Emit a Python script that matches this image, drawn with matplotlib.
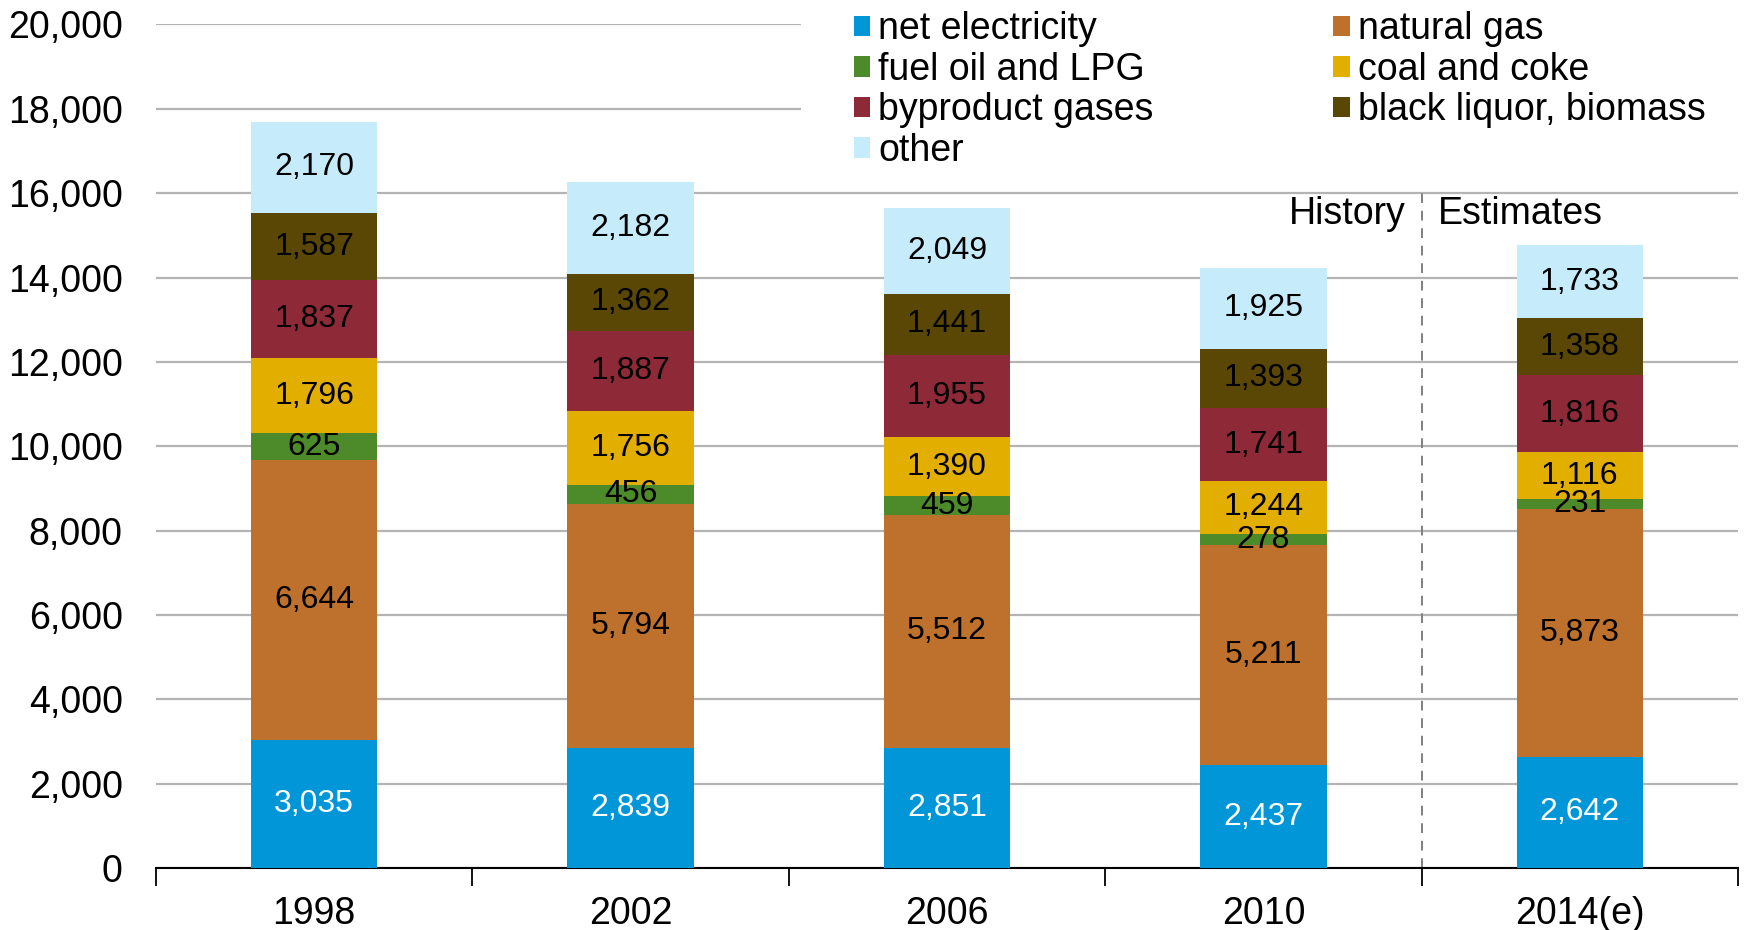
import matplotlib
matplotlib.use("Agg")
import matplotlib.pyplot as plt
from matplotlib.patches import Rectangle

plt.rcParams['font.family'] = ['Liberation Sans', 'DejaVu Sans']

years = ['1998', '2002', '2006', '2010', '2014(e)']
series = ['net electricity', 'natural gas', 'fuel oil and LPG', 'coal and coke',
          'byproduct gases', 'black liquor, biomass', 'other']
net_electricity = [3035, 2839, 2851, 2437, 2642]
natural_gas = [6644, 5794, 5512, 5211, 5873]
fuel_oil_lpg = [625, 456, 459, 278, 231]
coal_coke = [1796, 1756, 1390, 1244, 1116]
byproduct_gases = [1837, 1887, 1955, 1741, 1816]
black_liquor = [1587, 1362, 1441, 1393, 1358]
other = [2170, 2182, 2049, 1925, 1733]

values = [net_electricity, natural_gas, fuel_oil_lpg, coal_coke,
          byproduct_gases, black_liquor, other]
colors = ['#0096D7', '#BD712C', '#4D8A2A', '#E2AE00', '#8E2A37', '#5A4706', '#C6ECFC']
label_colors = ['white'] + ['black'] * 6

fig = plt.figure(figsize=(17.49, 9.30), dpi=100)
ax = fig.add_axes([0.0892, 0.0667, 0.9045, 0.907])

x = list(range(len(years)))
bottom = [0] * len(years)
handles = {}
for name, vals, c, lc in zip(series, values, colors, label_colors):
    bars = ax.bar(x, vals, 0.4, bottom=bottom, color=c, label=name, zorder=3)
    ax.bar_label(bars, labels=[f'{v:,}' for v in vals], label_type='center',
                 color=lc, fontsize=23, zorder=4)
    handles[name] = bars
    bottom = [b + v for b, v in zip(bottom, vals)]

ax.set_xlim(-0.5, len(years) - 0.5)
ax.set_ylim(0, 20000)
ax.set_yticks(range(0, 20001, 2000))
ax.set_yticklabels([f'{v:,}' for v in range(0, 20001, 2000)])
ax.yaxis.grid(True, color='#B4B4B4', linewidth=1.6, zorder=0)
ax.set_axisbelow(True)

# category ticks at boundaries, labels centred
ax.set_xticks([i - 0.5 for i in range(len(years) + 1)])
ax.set_xticklabels([])
ax.set_xticks(x, minor=True)
ax.set_xticklabels(years, minor=True)
ax.tick_params(axis='x', which='major', length=13, width=1.3, direction='out')
ax.tick_params(axis='x', which='minor', length=0, pad=20, labelsize=27)
ax.tick_params(axis='y', length=0, pad=24, labelsize=27)

for s in ['top', 'right', 'left']:
    ax.spines[s].set_visible(False)
ax.spines['bottom'].set_linewidth(1.5)

# history / estimates divider
ax.vlines(3.5, 0, 16100, colors='#808080', linestyles=(0, (5, 4)), linewidth=1.4, zorder=2)
ax.text(3.45, 15500, 'History', ha='right', va='center', fontsize=27)
ax.text(3.55, 15500, 'Estimates', ha='left', va='center', fontsize=27)

# white box behind legend hides the top gridlines
ax.add_patch(Rectangle((0.458, 0.825), 0.542, 0.175, transform=fig.transFigure,
                       facecolor='white', edgecolor='none', zorder=1, clip_on=False))

order = ['net electricity', 'fuel oil and LPG', 'byproduct gases', 'other',
         'natural gas', 'coal and coke', 'black liquor, biomass']
leg = fig.legend([handles[n] for n in order], order, ncol=2, loc='upper left',
                 bbox_to_anchor=(0.473, 1.016), frameon=False, fontsize=27,
                 handlelength=0.45, handleheight=0.45, handletextpad=0.2,
                 labelspacing=0.12, columnspacing=4.8, borderpad=0.2)

fig.savefig('out.png', dpi=100, facecolor='white')
